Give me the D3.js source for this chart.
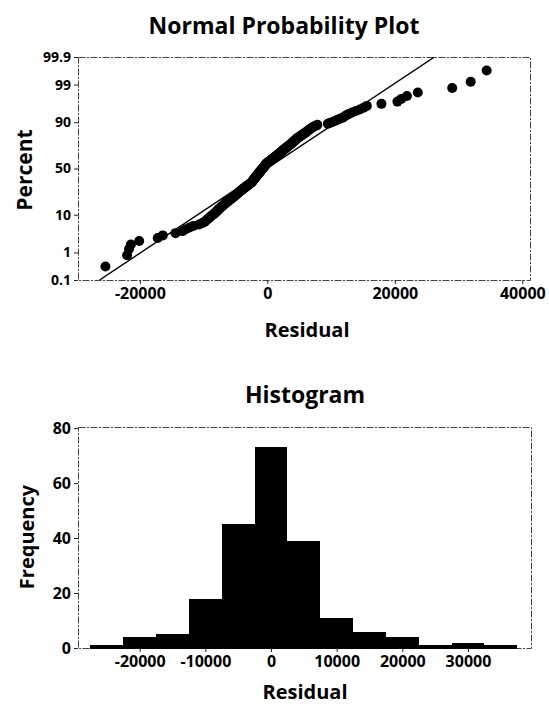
<!DOCTYPE html>
<html>
<head>
<meta charset="utf-8">
<script src="https://cdn.jsdelivr.net/npm/d3@7"></script>
<style>
body { margin: 0; background: #fff; }
svg text { font-family: "Open Sans", "Noto Sans", sans-serif; font-weight: 700; fill: #000; }
</style>
</head>
<body>
<svg id="chart" width="549" height="708"></svg>
<script>
// sorted residuals (210 obs)
var residuals = [
  -25400,
  -22000, -21700, -21400, -20100,
  -17200, -16400, -14400, -13300, -12800,
  -12200, -11600, -10700, -10200,
  -9800, -9600, -9400, -9200, -9000, -8800, -8600, -8400, -8250, -8100, -7950, -7800, -7700, -7600,
  -7400, -7250, -7150, -7000, -6900, -6750, -6650, -6500, -6400, -6250,
  -6150, -6000, -5900, -5750, -5650, -5500, -5400, -5250, -5150, -5050,
  -4950, -4850, -4750, -4650, -4550, -4450, -4350, -4250, -4150, -4050,
  -3950, -3850, -3750, -3650, -3550, -3450, -3350, -3250, -3150, -3050,
  -2950, -2850, -2750, -2650, -2550,
  -2480, -2420, -2370, -2310, -2260, -2200, -2150, -2090, -2040, -1980,
  -1930, -1870, -1820, -1760, -1710, -1650, -1600, -1540, -1490, -1430,
  -1380, -1320, -1270, -1210, -1160, -1100, -1050, -990, -940, -880,
  -830, -770, -720, -660, -610, -550, -500, -440, -390, -330,
  -280, -220, -170, -110, -60,
  40, 130, 220, 310, 400, 490, 580, 670, 760, 850,
  940, 1030, 1120, 1210, 1300, 1390, 1480, 1570, 1660, 1750,
  1840, 1930, 2020, 2110, 2200, 2290, 2380, 2460,
  2540, 2640, 2740, 2840, 2940, 3040, 3140, 3240, 3340, 3440,
  3540, 3640, 3740, 3840, 3940, 4040, 4140, 4240, 4340, 4440,
  4540, 4640, 4760, 4880,
  5050, 5200, 5350, 5500, 5650, 5800, 5950, 6100, 6250, 6400, 6550, 6700, 6900, 7100, 7300,
  7650, 7850, 9500, 9800, 10200, 10600, 11000, 11400, 11800, 12100, 12400,
  12800, 13300, 13900, 14500, 15100, 15600,
  17900, 20400, 21000, 21900,
  23600,
  29000, 31900,
  34400
];

// fitted normal line
var fitMean = -50;
var fitSd = 8500;

var pctTicks = [0.1, 1, 10, 50, 90, 99, 99.9];
var npXTicks = [-20000, 0, 20000, 40000];

// histogram
var binCenters = [-25000, -20000, -15000, -10000, -5000, 0, 5000, 10000, 15000, 20000, 25000, 30000, 35000];
var binCounts = [1, 4, 5, 18, 45, 73, 39, 11, 6, 4, 1, 2, 1];
var binWidth = 5000;
var histXTicks = [-20000, -10000, 0, 10000, 20000, 30000];
var freqTicks = [0, 20, 40, 60, 80];

// inverse normal cdf (Acklam)
var probit = function(p){
    var a = [-3.969683028665376e+01, 2.209460984245205e+02, -2.759285104469687e+02, 1.383577518672690e+02, -3.066479806614716e+01, 2.506628277459239e+00];
    var b = [-5.447609879822406e+01, 1.615858368580409e+02, -1.556989798598866e+02, 6.680131188771972e+01, -1.328068155288572e+01];
    var c = [-7.784894002430293e-03, -3.223964580411365e-01, -2.400758277161838e+00, -2.549732539343734e+00, 4.374664141464968e+00, 2.938163982698783e+00];
    var d = [7.784695709041462e-03, 3.224671290700398e-01, 2.445134137142996e+00, 3.754408661907416e+00];
    var pl = 0.02425, q, r;
    if (p < pl){
	q = Math.sqrt(-2*Math.log(p));
	return (((((c[0]*q+c[1])*q+c[2])*q+c[3])*q+c[4])*q+c[5])/((((d[0]*q+d[1])*q+d[2])*q+d[3])*q+1);
    }
    if (p > 1-pl){
	q = Math.sqrt(-2*Math.log(1-p));
	return -(((((c[0]*q+c[1])*q+c[2])*q+c[3])*q+c[4])*q+c[5])/((((d[0]*q+d[1])*q+d[2])*q+d[3])*q+1);
    }
    q = p-0.5; r = q*q;
    return (((((a[0]*r+a[1])*r+a[2])*r+a[3])*r+a[4])*r+a[5])*q/(((((b[0]*r+b[1])*r+b[2])*r+b[3])*r+b[4])*r+1);
};

var svg = d3.select("#chart");

var drawFrame = function(x0, y0, x1, y1){
    svg.append("rect")
	.attr("x", x0 + 0.5).attr("y", y0 + 0.5)
	.attr("width", x1 - x0).attr("height", y1 - y0)
	.attr("fill", "none")
	.attr("stroke", "#444")
	.attr("stroke-width", 1)
	.attr("stroke-dasharray", "7,1.5,2,1.5");
};

var styleAxis = function(g, size){
    g.select(".domain").remove();
    g.selectAll(".tick line").attr("stroke", "#222");
    g.selectAll(".tick text").style("font-size", size + "px");
};

// plain hyphen for negatives, like the original
var plainFmt = function(d){ return String(d); };

// ---------- normal probability plot ----------
var np = {left: 78, right: 530, top: 57, bottom: 280};

var xNp = d3.scaleLinear().domain([-29700, 41200]).range([np.left, np.right]);
var yNp = d3.scaleLinear().domain([probit(0.001), probit(0.999)]).range([np.bottom, np.top]);

svg.append("text")
    .attr("x", 284).attr("y", 34)
    .attr("text-anchor", "middle")
    .style("font-size", "23px")
    .text("Normal Probability Plot");

drawFrame(np.left, np.top, np.right, np.bottom);

svg.append("clipPath").attr("id", "npclip")
    .append("rect")
    .attr("x", np.left).attr("y", np.top)
    .attr("width", np.right - np.left).attr("height", np.bottom - np.top);

var n = residuals.length;
var pts = residuals.map(function(v, i){
    return {x: v, z: probit((i + 1 - 0.3)/(n + 0.4))};
});

svg.append("g").attr("clip-path", "url(#npclip)")
    .selectAll("circle").data(pts).enter()
    .append("circle")
    .attr("cx", function(d){ return xNp(d.x); })
    .attr("cy", function(d){ return yNp(d.z); })
    .attr("r", 5)
    .attr("fill", "#000");

var zLo = probit(0.001), zHi = probit(0.999);
svg.append("line")
    .attr("clip-path", "url(#npclip)")
    .attr("x1", xNp(fitMean + zLo*fitSd)).attr("y1", yNp(zLo))
    .attr("x2", xNp(fitMean + zHi*fitSd)).attr("y2", yNp(zHi))
    .attr("stroke", "#000")
    .attr("stroke-width", 1.4);

var npYAxis = svg.append("g")
    .attr("transform", "translate(" + np.left + ",0)")
    .call(d3.axisLeft(yNp)
	  .tickValues(pctTicks.map(function(p){ return probit(p/100); }))
	  .tickFormat(function(d, i){ return pctTicks[i]; })
	  .tickSize(4).tickPadding(3));
styleAxis(npYAxis, 14);

var npXAxis = svg.append("g")
    .attr("transform", "translate(0," + np.bottom + ")")
    .call(d3.axisBottom(xNp).tickValues(npXTicks).tickFormat(plainFmt).tickSize(4).tickPadding(4));
styleAxis(npXAxis, 16);

svg.append("text")
    .attr("transform", "translate(32,170) rotate(-90)")
    .attr("text-anchor", "middle")
    .style("font-size", "21px")
    .text("Percent");

svg.append("text")
    .attr("x", 307).attr("y", 337)
    .attr("text-anchor", "middle")
    .style("font-size", "20px")
    .text("Residual");

// ---------- histogram ----------
var hs = {left: 78, right: 531, top: 427, bottom: 648};

var xH = d3.scaleLinear().domain([-29400, 39600]).range([hs.left, hs.right]);
var yH = d3.scaleLinear().domain([0, 80.4]).range([hs.bottom, hs.top]);

svg.append("text")
    .attr("x", 305).attr("y", 403)
    .attr("text-anchor", "middle")
    .style("font-size", "23px")
    .text("Histogram");

drawFrame(hs.left, hs.top, hs.right, hs.bottom);

// rounded edges so neighbouring bars merge without seams
var edgeL = function(i){ return Math.round(xH(binCenters[i] - binWidth/2)); };
var edgeR = function(i){ return Math.round(xH(binCenters[i] + binWidth/2)); };

svg.append("g").attr("shape-rendering", "crispEdges")
    .selectAll("rect").data(binCounts).enter()
    .append("rect")
    .attr("x", function(d, i){ return edgeL(i); })
    .attr("width", function(d, i){ return edgeR(i) - edgeL(i); })
    .attr("y", function(d){ return Math.round(yH(d)); })
    .attr("height", function(d){ return Math.round(yH(0)) - Math.round(yH(d)) + 1; })
    .attr("fill", "#000");

var hYAxis = svg.append("g")
    .attr("transform", "translate(" + hs.left + ",0)")
    .call(d3.axisLeft(yH).tickValues(freqTicks).tickSize(4).tickPadding(3));
styleAxis(hYAxis, 16);

var hXAxis = svg.append("g")
    .attr("transform", "translate(0," + hs.bottom + ")")
    .call(d3.axisBottom(xH).tickValues(histXTicks).tickFormat(plainFmt).tickSize(4).tickPadding(4));
styleAxis(hXAxis, 16);

svg.append("text")
    .attr("transform", "translate(34,537) rotate(-90)")
    .attr("text-anchor", "middle")
    .style("font-size", "20px")
    .text("Frequency");

svg.append("text")
    .attr("x", 305).attr("y", 699)
    .attr("text-anchor", "middle")
    .style("font-size", "20px")
    .text("Residual");
</script>
</body>
</html>
